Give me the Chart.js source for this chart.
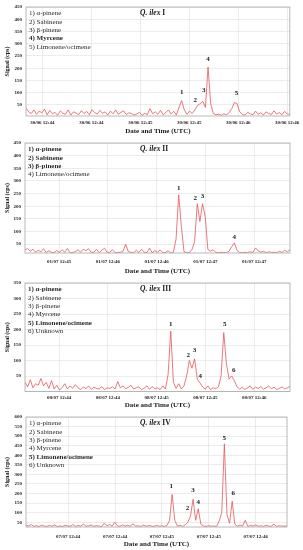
<!DOCTYPE html>
<html>
<head>
<meta charset="utf-8">
<script src="https://cdn.jsdelivr.net/npm/chart.js@4.4.1/dist/chart.umd.min.js"></script>
<style>
  body { margin: 0; background: #fff; width: 303px; height: 550px; position: relative; overflow: hidden; }
  canvas { position: absolute; left: 0; }
</style>
</head>
<body>
<canvas id="chartI" width="303" height="136" style="top:0px"></canvas>
<canvas id="chartII" width="303" height="140" style="top:136px"></canvas>
<canvas id="chartIII" width="303" height="134" style="top:276px"></canvas>
<canvas id="chartIV" width="303" height="140" style="top:410px"></canvas>
<script>
// Q. ilex I - 30/06
const signalI = [
    38, 22, 15, 30, 12, 25, 18, 33, 10, 28,
    14, 20, 8, 26, 16, 12, 30, 9, 22, 17,
    11, 27, 15, 24, 10, 31, 19, 13, 28, 16,
    22, 9, 25, 14, 30, 12, 20, 26, 11, 18,
    15, 9, 13, 20, 8, 16, 11, 35, 14, 22,
    12, 28, 10, 19, 30, 13, 24, 9, 40, 68,
    30, 12, 25, 15, 30, 48, 55, 65, 40, 205,
    55, 15, 10, 12, 8, 14, 10, 18, 35, 60,
    55, 22, 12, 8, 20, 14, 10, 25, 12, 18,
    9, 22, 15, 11, 26, 13, 19, 10, 24, 14, 12
];
const xTicksI = [10, 40, 70, 100, 130, 160];
const xLabelsI = ['30/06 12:44', '30/06 12:44', '30/06 12:45', '30/06 12:45', '30/06 12:46', '30/06 12:46'];
const compoundsI = ['1) α-pinene', '2) Sabinene', '3) β-pinene', '4) Myrcene', '5) Limonene/ocimene'];
const boldI = [3];
const peakNamesI = ['1', '2', '3', '4', '5'];
const peakIdxI = [59, 66, 67, 69, 79];

// Q. ilex II - 01/07
const signalII = [
    28, 32, 22, 30, 18, 26, 20, 32, 17, 24,
    18, 16, 25, 17, 28, 18, 33, 16, 17, 20,
    28, 18, 30, 24, 32, 17, 18, 30, 16, 26,
    34, 17, 18, 28, 16, 17, 18, 22, 50, 20,
    18, 16, 26, 17, 30, 18, 17, 34, 16, 25,
    18, 27, 16, 17, 24, 16, 18, 70, 245, 120,
    20, 17, 16, 28, 60, 210, 140, 210, 160, 30,
    22, 28, 17, 16, 18, 17, 16, 22, 40, 55,
    25, 17, 16, 18, 16, 20, 17, 35, 24, 18,
    22, 16, 20, 17, 18, 16, 22, 17, 26, 20, 28
];
const xTicksII = [21, 51, 81, 111, 141];
const xLabelsII = ['01/07 12:45', '01/07 12:46', '01/07 12:46', '01/07 12:47', '01/07 12:47'];
const compoundsII = ['1) α-pinene', '2) Sabinene', '3) β-pinene', '4) Limonene/ocimene'];
const boldII = [0, 1, 2];
const peakNamesII = ['1', '2', '3', '4'];
const peakIdxII = [58, 65, 67, 79];

// Q. ilex III - 08/07
const signalIII = [
    30, 15, 38, 12, 25, 20, 42, 18, 30, 10,
    35, 8, 20, 5, 12, 25, 8, 18, 10, 22,
    12, 6, 15, 9, 18, 7, 14, 10, 8, 16,
    6, 12, 10, 15, 8, 32, 12, 18, 9, 14,
    20, 8, 12, 15, 6, 11, 18, 7, 16, 9,
    12, 6, 18, 8, 55, 195, 30, 10, 25, 8,
    18, 50, 100, 75, 105, 40, 28, 15, 8, 18,
    6, 12, 9, 15, 50, 190, 90, 40, 50, 35,
    15, 8, 14, 6, 12, 18, 7, 14, 10, 16,
    8, 12, 18, 9, 14, 6, 10, 15, 8, 12, 16
];
const xTicksIII = [21, 51, 81, 111, 141];
const xLabelsIII = ['08/07 12:44', '08/07 12:44', '08/07 12:45', '08/07 12:45', '08/07 12:46'];
const compoundsIII = ['1) α-pinene', '2) Sabinene', '3) β-pinene', '4) Myrcene', '5) Limonene/ocimene', '6) Unknown'];
const boldIII = [0, 4];
const peakNamesIII = ['1', '2', '3', '4', '5', '6'];
const peakIdxIII = [55, 62, 64, 65, 75, 78];

// Q. ilex IV - 07/07
const signalIV = [
    35, 30, 38, 28, 32, 27, 35, 30, 28, 33,
    29, 36, 27, 31, 28, 34, 30, 29, 38, 28,
    33, 30, 40, 29, 31, 35, 28, 32, 30, 27,
    45, 32, 38, 29, 50, 31, 28, 36, 30, 33,
    29, 42, 30, 31, 28, 35, 29, 33, 30, 28,
    34, 29, 31, 28, 33, 60, 195, 60, 30, 34,
    28, 36, 50, 80, 170, 60, 120, 40, 30, 28,
    32, 29, 30, 28, 55, 100, 460, 90, 45, 160,
    40, 29, 35, 30, 60, 28, 33, 30, 36, 29,
    31, 28, 34, 30, 29, 40, 28, 32, 30, 29, 31
];
const xTicksIV = [27, 57, 87, 117, 147];
const xLabelsIV = ['07/07 12:44', '07/07 12:44', '07/07 12:45', '07/07 12:45', '07/07 12:46'];
const compoundsIV = ['1) α-pinene', '2) Sabinene', '3) β-pinene', '4) Myrcene', '5) Limonene/ocimene', '6) Unknown'];
const boldIV = [4];
const peakNamesIV = ['1', '2', '3', '4', '5', '6'];
const peakIdxIV = [56, 63, 64, 66, 76, 79];

const SERIF = "'Liberation Serif', 'DejaVu Serif', serif";
const LINE_COLOR = '#e6575b';
const GRID_COLOR = '#e4e4e4';
const TEXT_COLOR = '#1a1a1a';

// frame, compound list, panel name and peak numbers
const decor = {
    id: 'decor',
    afterDraw(chart, args, o) {
        const { ctx, chartArea: a } = chart;
        ctx.save();
        ctx.strokeStyle = '#a8a8a8';
        ctx.lineWidth = 0.8;
        ctx.strokeRect(a.left, a.top, a.right - a.left, a.bottom - a.top);

        ctx.fillStyle = '#2a2a2a';
        ctx.textBaseline = 'middle';
        ctx.textAlign = 'left';
        o.compounds.forEach((txt, i) => {
            ctx.font = (o.bold.includes(i) ? 'bold ' : '') + '7px ' + SERIF;
            ctx.fillText(txt, a.left + 3, a.top + 6.5 + i * 8.3);
        });

        const ty = a.top + 6.5;
        ctx.fillStyle = TEXT_COLOR;
        ctx.font = 'italic bold 7.5px ' + SERIF;
        ctx.fillText('Q. ilex', 140, ty);
        const w = ctx.measureText('Q. ilex ').width;
        ctx.font = 'bold 7.5px ' + SERIF;
        ctx.fillText(o.name, 140 + w, ty);

        const meta = chart.getDatasetMeta(0);
        ctx.font = 'bold 7px ' + SERIF;
        ctx.textAlign = 'center';
        o.peaks.forEach((p, i) => {
            const pt = meta.data[o.peakIdx[i]];
            const [dx, dy] = o.offsets[i];
            ctx.fillText(p, pt.x + dx, pt.y + dy);
        });
        ctx.restore();
    }
};

function drawPanel(id, p) {
    const n = p.values.length;
    const points = p.values.map((v, i) => ({ x: i * p.span / (n - 1), y: v }));
    return new Chart(document.getElementById(id), {
        type: 'line',
        data: {
            datasets: [{
                data: points,
                borderColor: LINE_COLOR,
                borderWidth: 0.8,
                pointRadius: 0,
                tension: 0
            }]
        },
        options: {
            responsive: false,
            animation: false,
            layout: { padding: { top: p.top, right: p.right, left: 0, bottom: 0 } },
            plugins: {
                legend: { display: false },
                tooltip: { enabled: false },
                decor: {
                    compounds: p.compounds, bold: p.bold, name: p.name,
                    peaks: p.peaks, peakIdx: p.peakIdx, offsets: p.offsets
                }
            },
            scales: {
                x: {
                    type: 'linear',
                    min: 0,
                    max: p.span,
                    afterBuildTicks: s => { s.ticks = p.xTicks.map(v => ({ value: v })); },
                    afterFit: s => { s.height = p.xHeight; },
                    ticks: {
                        callback: (v, i) => p.xLabels[i],
                        font: { family: SERIF, size: 5, weight: 'bold' },
                        color: TEXT_COLOR,
                        padding: p.xPad,
                        maxRotation: 0,
                        autoSkip: false
                    },
                    grid: { color: GRID_COLOR, lineWidth: 0.7, drawTicks: false },
                    border: { display: false },
                    title: {
                        display: true,
                        text: 'Date and Time (UTC)',
                        font: { family: SERIF, size: 7, weight: 'bold' },
                        color: TEXT_COLOR,
                        padding: { top: 0, bottom: p.titlePad }
                    }
                },
                y: {
                    min: p.min,
                    max: p.max,
                    afterFit: s => { s.width = p.left; },
                    ticks: {
                        stepSize: 50,
                        includeBounds: false,
                        callback: v => (v >= 50 ? v : ''),
                        font: { family: SERIF, size: 5, weight: 'bold' },
                        color: TEXT_COLOR,
                        padding: 4
                    },
                    grid: { color: GRID_COLOR, lineWidth: 0.7, drawTicks: false },
                    border: { display: false },
                    title: {
                        display: true,
                        text: 'Signal (cps)',
                        font: { family: SERIF, size: 6, weight: 'bold' },
                        color: TEXT_COLOR,
                        padding: { top: 4, bottom: 0 }
                    }
                }
            }
        },
        plugins: [decor]
    });
}

drawPanel('chartI', {
    values: signalI, span: 161.6, xTicks: xTicksI, xLabels: xLabelsI,
    min: 5, max: 450, top: 6, right: 13, left: 26, xHeight: 20, xPad: 3.5, titlePad: 0.8,
    compounds: compoundsI, bold: boldI, name: 'I',
    peaks: peakNamesI, peakIdx: peakIdxI,
    offsets: [[0, -8], [-5, -4], [1, -11], [0, -8], [2, -9]]
});

drawPanel('chartII', {
    values: signalII, span: 163, xTicks: xTicksII, xLabels: xLabelsII,
    min: 15, max: 450, top: 6, right: 13, left: 25, xHeight: 23, xPad: 5.5, titlePad: 0.8,
    compounds: compoundsII, bold: boldII, name: 'II',
    peaks: peakNamesII, peakIdx: peakIdxII,
    offsets: [[0, -7], [-2, -6], [0, -8], [0, -6]]
});

drawPanel('chartIII', {
    values: signalIII, span: 163, xTicks: xTicksIII, xLabels: xLabelsIII,
    min: 0, max: 350, top: 5, right: 13, left: 25, xHeight: 18.5, xPad: 3, titlePad: 0.8,
    compounds: compoundsIII, bold: boldIII, name: 'III',
    peaks: peakNamesIII, peakIdx: peakIdxIII,
    offsets: [[0, -7], [-1, -5], [0, -9], [3, -3], [1, -8], [2, -6]]
});

drawPanel('chartIV', {
    values: signalIV, span: 167, xTicks: xTicksIV, xLabels: xLabelsIV,
    min: 25, max: 600, top: 5, right: 16, left: 26, xHeight: 23, xPad: 6.5, titlePad: 1.8,
    compounds: compoundsIV, bold: boldIV, name: 'IV',
    peaks: peakNamesIV, peakIdx: peakIdxIV,
    offsets: [[-1, -8], [-3, -8], [0, -9], [0, -7], [0, -6], [1, -8]]
});
</script>
</body>
</html>
